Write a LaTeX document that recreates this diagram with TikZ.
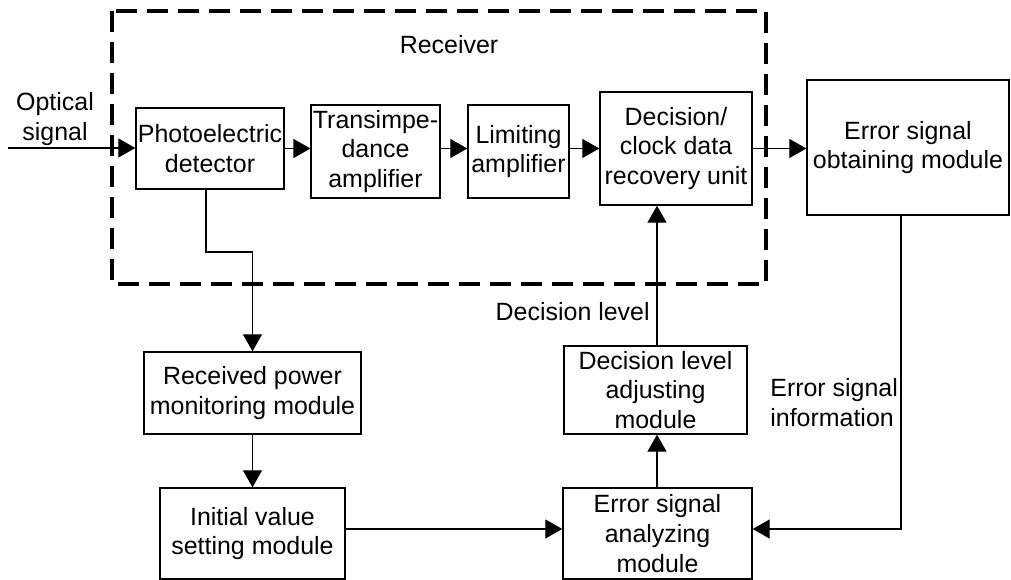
\documentclass[tikz,border=0pt]{standalone}
\usepackage{fontspec}
\setmainfont{Liberation Sans}
\usetikzlibrary{arrows.meta}
\begin{document}
\begin{tikzpicture}[x=0.02cm,y=-0.02cm,
    blk/.style={draw,line width=0.8pt,align=center,inner sep=1pt,
      font=\fontsize{14.2}{17}\selectfont},
    lbl/.style={align=center,inner sep=0pt,font=\fontsize{14.2}{17}\selectfont},
    arr/.style={line width=0.7pt,-{Triangle[length=0.34cm,width=0.38cm]}}]
      \useasboundingbox (0,0) rectangle (1011,580);
      \draw[line width=2.3pt,dash pattern=on 0.42cm off 0.2cm]
        (112,11) rectangle (766,284);
      \draw
        (210,148.5) node[blk,minimum width=2.96cm,minimum height=1.62cm] (pd){Photoelectric\\detector}
        (375.5,151.5) node[blk,minimum width=2.46cm,minimum height=1.86cm] (tia){Transimpe-\\dance\\amplifier}
        (518.5,151.5) node[blk,minimum width=2.02cm,minimum height=1.86cm] (la){Limiting\\amplifier}
        (676,148.5) node[blk,minimum width=3.04cm,minimum height=2.26cm] (cdr){Decision/\\clock data\\recovery unit}
        (908,147.5) node[blk,minimum width=4.04cm,minimum height=2.7cm] (esom){Error signal\\obtaining module}
        (252.5,393) node[blk,minimum width=4.34cm,minimum height=1.64cm] (rpm){Received power\\monitoring module}
        (252.5,533.5) node[blk,minimum width=3.7cm,minimum height=1.82cm] (ivs){Initial value\\setting module}
        (657.5,533.5) node[blk,minimum width=3.78cm,minimum height=1.82cm] (esam){Error signal\\analyzing\\module}
        (655.5,390) node[blk,minimum width=3.66cm,minimum height=1.76cm] (dlam){Decision level\\adjusting\\module};
      \node[lbl] (rx) at (449,45) {Receiver};
      \node[lbl] (os) at (55,119) {Optical\\signal};
      \node[lbl,anchor=east] (dl) at (650,312) {Decision level};
      \node[lbl,align=left,anchor=west] (esi) at (770,403) {Error signal\\information};
      \coordinate (in) at (8,148);
      \coordinate (b1) at (206,252);
      \coordinate (b2) at (252.5,252);
      \coordinate (c1) at (901,529);
      \begin{scope}[arr]
        \draw (in) -- (in -| pd.west);
        \draw (pd.east) -- (pd.east -| tia.west);
        \draw (pd.east -| tia.east) -- (pd.east -| la.west);
        \draw (pd.east -| la.east) -- (pd.east -| cdr.west);
        \draw (pd.east -| cdr.east) -- (pd.east -| esom.west);
        \draw (pd.south -| b1) -- (b1) -- (b2) -- (rpm.north);
        \draw (rpm.south) -- (ivs.north);
        \draw (ivs.east |- c1) -- (c1 -| esam.west);
        \draw (esam.north -| 657,0) -- (dlam.south -| 657,0);
        \draw (dlam.north -| 657,0) -- (cdr.south -| 657,0);
        \draw (esom.south -| c1) -- (c1) -- (c1 -| esam.east);
      \end{scope}
    \end{tikzpicture}
\end{document}
